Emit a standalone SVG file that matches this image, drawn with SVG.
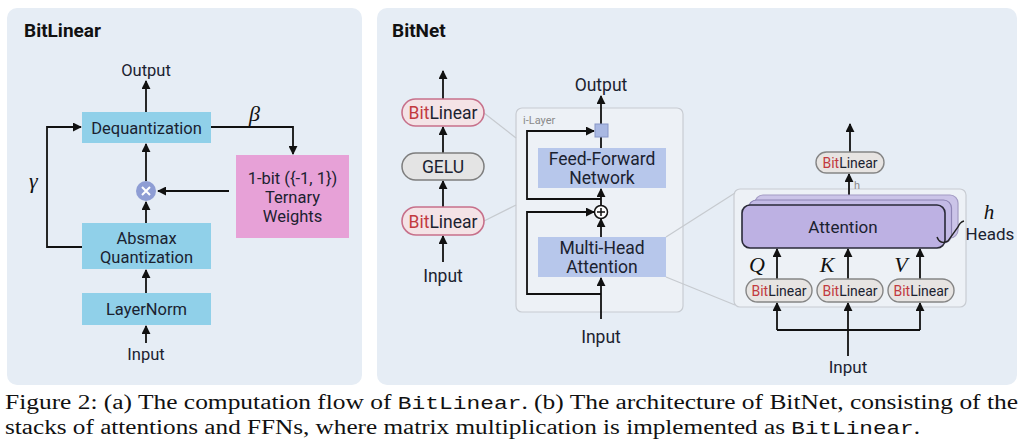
<svg xmlns="http://www.w3.org/2000/svg" width="1024" height="445" viewBox="0 0 1024 445">
<defs>
<marker id="ah" viewBox="0 0 10 10" refX="9" refY="5" markerWidth="9" markerHeight="9" markerUnits="userSpaceOnUse" orient="auto">
<path d="M0,0 L10,5 L0,10 z" fill="#111"/>
</marker>
</defs>
<style>
.t{font-family:Roboto,"Liberation Sans",sans-serif;fill:#1b2230;text-anchor:middle}
.ttl{font-family:Roboto,"Liberation Sans",sans-serif;font-weight:bold;font-size:19px;fill:#111}
.m{font-family:"Liberation Serif","DejaVu Serif",serif;font-style:italic;fill:#111}
.ln{fill:none;stroke:#111;stroke-width:1.8}
.ar{fill:none;stroke:#111;stroke-width:1.8;marker-end:url(#ah)}
.gl{fill:none;stroke:#c6cacf;stroke-width:1.2}
.blue{fill:#90d0e9}
.vb{fill:#b7c7eb}
.pill{fill:#f4e3e6;stroke:#c7708a;stroke-width:1.6}
.gpill{fill:#e7e4e2;stroke:#858585;stroke-width:1.4}
.bit{fill:#c23a3f}
.cap{font-family:"Liberation Serif","DejaVu Serif",serif;font-size:20px;fill:#111}
.mono{font-family:"Liberation Mono","DejaVu Sans Mono",monospace;font-size:18px}
</style>
<rect width="1024" height="445" fill="#ffffff"/>
<rect id="panel-a" x="7" y="8" width="355" height="377" rx="10" fill="#e6edf5"/>
<rect id="panel-b" x="377" y="8" width="640" height="377" rx="10" fill="#e6edf5"/>
<text class="ttl" x="24" y="37">BitLinear</text>
<text class="ttl" x="392" y="37">BitNet</text>

<g id="ilayer"><rect x="516" y="108" width="167" height="204" rx="6" fill="#edf1f6" stroke="#c8ccd2" stroke-width="1.2"/>
<text x="523" y="124" font-family="Roboto,'Liberation Sans',sans-serif" font-size="11" fill="#8a8a8a">i-Layer</text></g>
<g id="attn-container"><rect x="734" y="189" width="232" height="118" rx="6" fill="#edf1f6" stroke="#c8ccd2" stroke-width="1.2"/></g>

<g id="connectors">
<line class="ar" x1="146" y1="112" x2="146" y2="81"/>
<path class="ar" d="M211,127 H293 V154"/>
<line class="ar" x1="229" y1="191" x2="158" y2="191"/>
<line class="ar" x1="146" y1="181" x2="146" y2="144"/>
<line class="ar" x1="146" y1="223" x2="146" y2="202"/>
<path class="ar" d="M82,247 H47 V127 H81"/>
<line class="ar" x1="146" y1="293" x2="146" y2="270"/>
<line class="ar" x1="146" y1="343" x2="146" y2="326"/>

<line class="ar" x1="443" y1="99" x2="443" y2="71"/>
<line class="ar" x1="443" y1="153" x2="443" y2="127"/>
<line class="ar" x1="443" y1="207" x2="443" y2="181"/>
<line class="ar" x1="443" y1="262" x2="443" y2="236"/>
<line class="gl" x1="484" y1="113" x2="516" y2="138"/>
<line class="gl" x1="484" y1="221" x2="516" y2="205"/>

<line class="ar" x1="601" y1="124" x2="601" y2="96"/>
<line class="ln" x1="601" y1="137" x2="601" y2="148"/>
<path class="ar" d="M601,199 H527 V131 H594"/>
<line class="ar" x1="601" y1="205.5" x2="601" y2="189"/>
<path class="ar" d="M601,294 H527 V212 H594"/>
<line class="ar" x1="601" y1="237" x2="601" y2="219"/>
<line class="ar" x1="601" y1="319" x2="601" y2="278"/>
<line class="gl" x1="666" y1="237" x2="735" y2="193"/>
<line class="gl" x1="666" y1="277" x2="735" y2="305"/>

<line class="ar" x1="850" y1="152" x2="850" y2="124"/>
<line class="ar" x1="849" y1="205" x2="849" y2="174"/>
<line class="ar" x1="777" y1="279" x2="777" y2="249"/>
<line class="ar" x1="848" y1="279" x2="848" y2="249"/>
<line class="ar" x1="920" y1="279" x2="920" y2="249"/>
<path class="ln" d="M777,330 H920"/>
<line class="ar" x1="777" y1="330" x2="777" y2="303"/>
<line class="ar" x1="920" y1="330" x2="920" y2="303"/>
<line class="ar" x1="848" y1="356" x2="848" y2="303"/>
</g>

<text class="t" x="146" y="76" font-size="16.5">Output</text>
<g id="dequant"><rect class="blue" x="82" y="112" width="129" height="31"/><text class="t" x="146.5" y="133.5" font-size="16.5">Dequantization</text></g>
<text class="m" x="249" y="121" font-size="22">β</text>
<g id="weights"><rect x="236" y="155" width="113" height="83" fill="#e7a1d7"/>
<text class="t" x="292.5" y="184" font-size="16.5">1-bit ({-1, 1})</text>
<text class="t" x="292.5" y="203" font-size="16.5">Ternary</text>
<text class="t" x="292.5" y="222" font-size="16.5">Weights</text></g>
<g id="mult"><circle cx="146" cy="191" r="10" fill="#8e9dd4"/><path d="M142,187 L150,195 M150,187 L142,195" stroke="#fff" stroke-width="2"/></g>
<text class="m" x="29" y="188" font-size="22">γ</text>
<g id="absmax"><rect class="blue" x="82" y="223" width="129" height="46"/>
<text class="t" x="146.5" y="243.5" font-size="16.5">Absmax</text>
<text class="t" x="146.5" y="263" font-size="16.5">Quantization</text></g>
<g id="layernorm"><rect class="blue" x="82" y="293" width="129" height="32"/><text class="t" x="146.5" y="315" font-size="16.5">LayerNorm</text></g>
<text class="t" x="146" y="360" font-size="16.5">Input</text>

<g id="ffn-bitlinear-top"><rect class="pill" x="402" y="99" width="82" height="27" rx="13.5"/><text class="t" x="443" y="118.5" font-size="17.5"><tspan class="bit">Bit</tspan>Linear</text></g>
<g id="gelu"><rect x="402" y="153" width="82" height="27" rx="13.5" fill="#e4e4e4" stroke="#7d7d7d" stroke-width="1.5"/><text class="t" x="443" y="172.5" font-size="17.5">GELU</text></g>
<g id="ffn-bitlinear-bottom"><rect class="pill" x="402" y="207" width="82" height="28" rx="14"/><text class="t" x="443" y="227.5" font-size="17.5"><tspan class="bit">Bit</tspan>Linear</text></g>
<text class="t" x="443" y="282" font-size="17.5">Input</text>

<text class="t" x="601" y="91" font-size="17.5">Output</text>
<g id="addnorm"><rect x="595" y="124" width="13" height="13" fill="#a9b8e2" stroke="#8796c6" stroke-width="1"/></g>
<g id="ffn"><rect class="vb" x="538" y="148" width="128" height="40"/>
<text class="t" x="602" y="165" font-size="17.5">Feed-Forward</text>
<text class="t" x="602" y="184" font-size="17.5">Network</text></g>
<g id="plus"><circle cx="601" cy="212" r="6.5" fill="#fff" stroke="#111" stroke-width="1.5"/><path d="M597,212 H605 M601,208 V216" stroke="#111" stroke-width="1.5"/></g>
<g id="mha"><rect class="vb" x="538" y="237" width="128" height="40"/>
<text class="t" x="602" y="254" font-size="17.5">Multi-Head</text>
<text class="t" x="602" y="273" font-size="17.5">Attention</text></g>
<text class="t" x="601" y="343" font-size="17.5">Input</text>

<g id="attn-out-bitlinear"><rect class="gpill" x="816" y="152" width="68" height="21" rx="10.5"/><text class="t" x="850" y="167.5" font-size="14"><tspan class="bit">Bit</tspan>Linear</text></g>
<text x="854" y="189" font-family="Roboto,'Liberation Sans',sans-serif" font-size="11" fill="#8a8a8a">h</text>
<g id="attention">
<rect x="755" y="195" width="203" height="43" rx="8" fill="#cbc4e8" stroke="#a49cc4" stroke-width="1.2"/>
<rect x="748.5" y="200" width="203" height="43" rx="8" fill="#c3bae6" stroke="#8d84b4" stroke-width="1.2"/>
<rect x="742" y="205" width="203" height="43" rx="8" fill="#bdb1e3" stroke="#2a2a38" stroke-width="1.6"/>
<text class="t" x="843" y="233" font-size="17">Attention</text>
</g>
<path d="M937,237 Q940,245 948,241 L958,227 Q960,222 964,221" fill="none" stroke="#222" stroke-width="1.4"/>
<text class="m" x="989" y="219" font-size="21" text-anchor="middle">h</text>
<text class="t" x="990" y="240" font-size="17">Heads</text>
<text class="m" x="757" y="272" font-size="22" text-anchor="middle">Q</text>
<text class="m" x="827" y="272" font-size="22" text-anchor="middle">K</text>
<text class="m" x="901" y="272" font-size="22" text-anchor="middle">V</text>
<g id="q-bitlinear"><rect class="gpill" x="746" y="279" width="66" height="23" rx="11.5"/><text class="t" x="779" y="295.5" font-size="14"><tspan class="bit">Bit</tspan>Linear</text></g>
<g id="k-bitlinear"><rect class="gpill" x="817" y="279" width="66" height="23" rx="11.5"/><text class="t" x="850" y="295.5" font-size="14"><tspan class="bit">Bit</tspan>Linear</text></g>
<g id="v-bitlinear"><rect class="gpill" x="888" y="279" width="66" height="23" rx="11.5"/><text class="t" x="921" y="295.5" font-size="14"><tspan class="bit">Bit</tspan>Linear</text></g>
<text class="t" x="848" y="373" font-size="17">Input</text>

<text class="cap" x="5" y="409" textLength="1013" lengthAdjust="spacingAndGlyphs">Figure 2: (a) The computation flow of <tspan class="mono">BitLinear</tspan>. (b) The architecture of BitNet, consisting of the</text>
<text class="cap" x="5" y="434" textLength="915" lengthAdjust="spacingAndGlyphs">stacks of attentions and FFNs, where matrix multiplication is implemented as <tspan class="mono">BitLinear</tspan>.</text>
</svg>
